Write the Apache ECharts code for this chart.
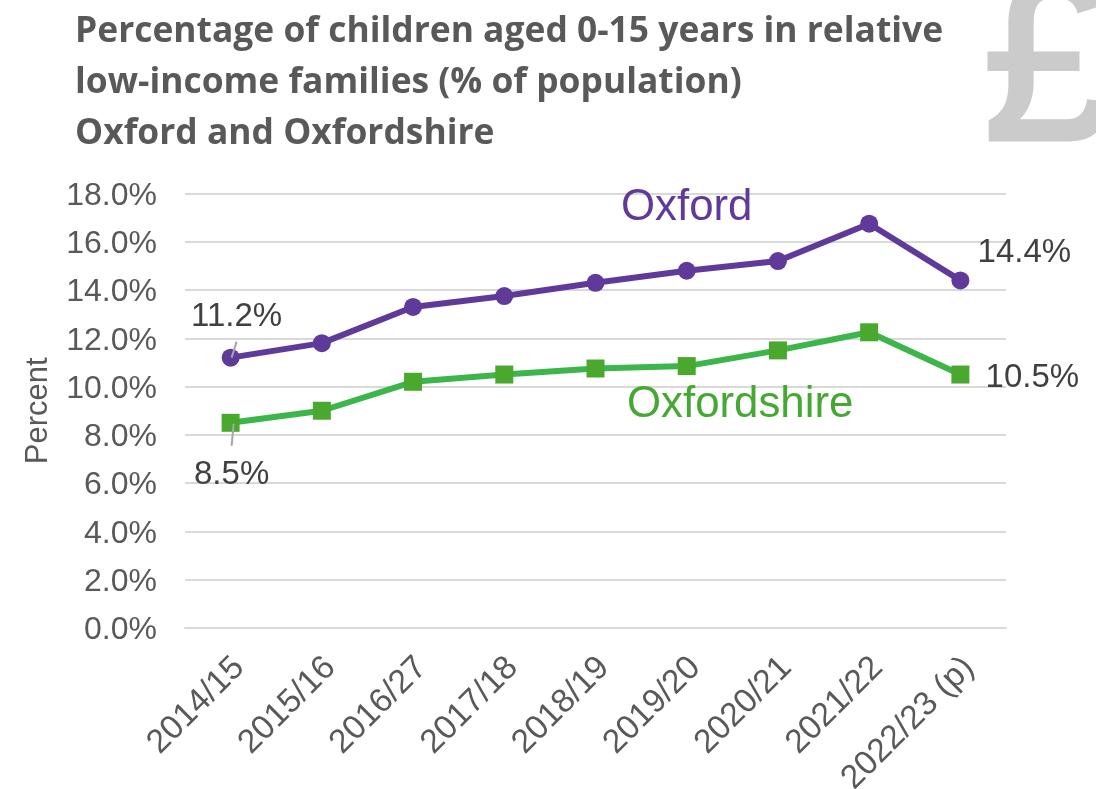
<!DOCTYPE html>
<html><head><meta charset="utf-8"><style>html,body{margin:0;padding:0;background:#fff}#c{width:1096px;height:789px}</style>
<script src="https://cdn.jsdelivr.net/npm/echarts@6/dist/echarts.min.js"></script></head><body><div id="c"></div><script>
const categories=['2014/15','2015/16','2016/27','2017/18','2018/19','2019/20','2020/21','2021/22','2022/23 (p)'];
const oxford=[11.2,11.8,13.3,13.75,14.3,14.8,15.2,16.75,14.4];
const oxfordshire=[8.5,9.0,10.2,10.5,10.75,10.85,11.5,12.25,10.5];
const titleLines=['Percentage of children aged 0-15 years in relative','low-income families (% of population)','Oxford and Oxfordshire'];
const F='"Liberation Sans",Arial,sans-serif', T='"Open Sans",sans-serif';
const chart=echarts.init(document.getElementById('c'),null,{renderer:'canvas'});
const option={animation:false,
 title:{text:titleLines.join('\n'),left:70,top:1,textStyle:{fontFamily:T,fontWeight:700,fontSize:35.4,color:'#595959',lineHeight:51}},
 grid:{left:185,right:90,top:193.5,bottom:161,outerBoundsMode:'none'},
 xAxis:{type:'category',data:categories,axisTick:{show:false},axisLine:{lineStyle:{color:'#d9d9d9',width:2}},
  axisLabel:{rotate:45,interval:0,margin:19,verticalAlign:'top',formatter:v=>'{a|'+v+'}',rich:{a:{fontFamily:F,fontSize:33.6,color:'#595959',padding:[0,5,0,0]}}}},
 yAxis:{type:'value',min:0,max:18,interval:2,name:'Percent',nameLocation:'middle',nameGap:131,
  nameTextStyle:{fontFamily:F,fontSize:31,color:'#595959'},
  axisLine:{show:false},axisTick:{show:false},splitLine:{lineStyle:{color:'#d9d9d9',width:2}},
  axisLabel:{margin:28,formatter:v=>'{a|'+v.toFixed(1)+'%}',rich:{a:{fontFamily:F,fontSize:32,color:'#595959',padding:[5,0,0,0]}}}},
 series:[
  {name:'Oxford',type:'line',data:oxford,symbol:'circle',symbolSize:18,lineStyle:{color:'#5f3a9b',width:6},itemStyle:{color:'#5f3a9b'},
   label:{show:true,fontFamily:F,fontSize:33,color:'#404040',formatter:p=>(p.dataIndex===0||p.dataIndex===8)?p.value.toFixed(1)+'%':'',position:'top',distance:0},
   labelLayout:p=>p.dataIndex===0?{dx:6,dy:-15}:p.dataIndex===8?{dx:64,dy:-2}:{}},
  {name:'Oxfordshire',type:'line',data:oxfordshire,symbol:'rect',symbolSize:18,lineStyle:{color:'#3cb54a',width:6},itemStyle:{color:'#4aa82e'},
   label:{show:true,fontFamily:F,fontSize:33,color:'#404040',formatter:p=>(p.dataIndex===0||p.dataIndex===8)?p.value.toFixed(1)+'%':'',position:'bottom',distance:0},
   labelLayout:p=>p.dataIndex===0?{dx:1,dy:27}:p.dataIndex===8?{dx:72,dy:-22}:{}}
 ]};
chart.setOption(option);
const a=chart.convertToPixel({seriesIndex:0},[0,oxford[0]]);
const b=chart.convertToPixel({seriesIndex:1},[0,oxfordshire[0]]);
const leader={stroke:'#a6a6a6',lineWidth:2};
chart.setOption({graphic:[
  {type:'text',left:981,top:-42,z:-1,style:{text:'£',fontFamily:F,fontSize:230,fill:'#cbcbcb',stroke:'#cbcbcb',lineWidth:5,shadowBlur:3,shadowColor:'#cbcbcb'}},
  {type:'text',left:621,top:186,style:{text:'Oxford',fontFamily:F,fontSize:43.8,fill:'#5f3a9b'}},
  {type:'text',left:627,top:383,style:{text:'Oxfordshire',fontFamily:F,fontSize:43.8,fill:'#45a832'}},
  {type:'line',z:100,shape:{x1:a[0]+1,y1:a[1],x2:a[0]+6,y2:a[1]-16},style:leader},
  {type:'line',z:100,shape:{x1:b[0]+3,y1:b[1]+1,x2:b[0]+1,y2:b[1]+23},style:leader}
]});
</script></body></html>
